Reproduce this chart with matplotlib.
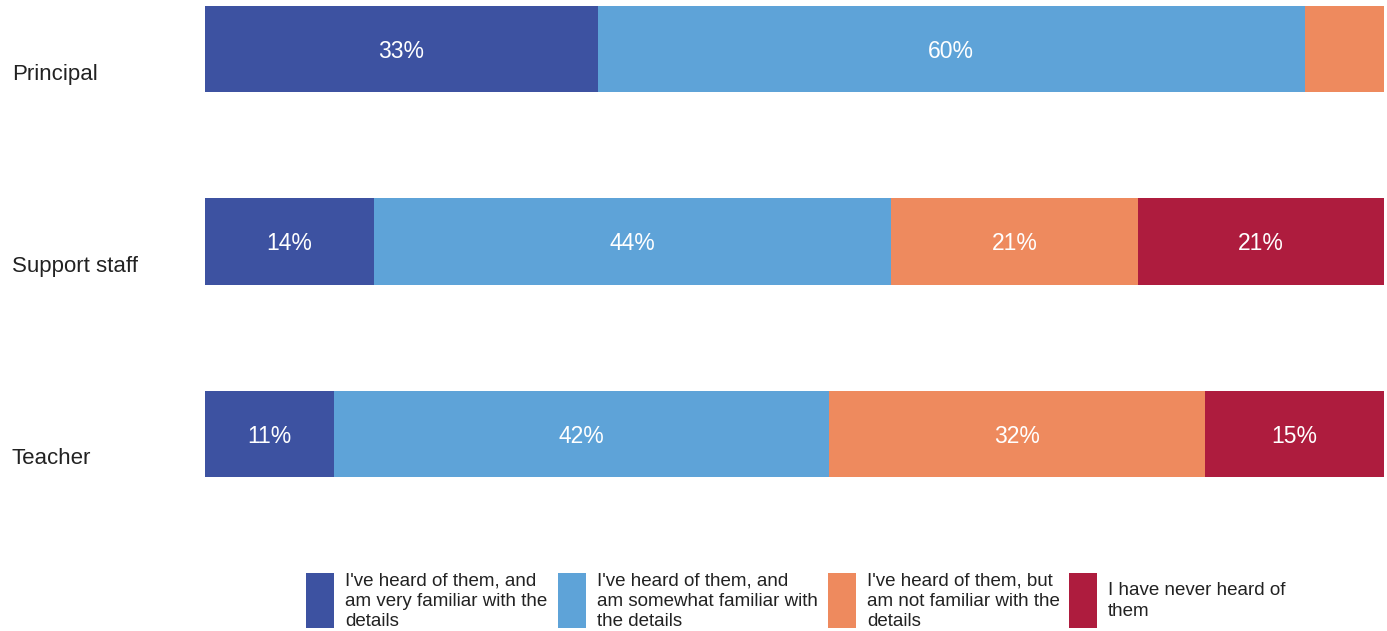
import matplotlib
matplotlib.use("Agg")
import matplotlib.pyplot as plt
from matplotlib.patches import Rectangle

plt.rcParams['font.family'] = ['Liberation Sans', 'DejaVu Sans']

# data (shares in %)
groups = ["Principal", "Support staff", "Teacher"]
answers = [
    "I've heard of them, and\nam very familiar with the\ndetails",
    "I've heard of them, and\nam somewhat familiar with\nthe details",
    "I've heard of them, but\nam not familiar with the\ndetails",
    "I have never heard of\nthem",
]
very_familiar = [33.3, 14.3, 10.9]
somewhat_familiar = [60.0, 43.9, 42.0]
not_familiar = [6.7, 20.9, 31.9]
never_heard = [0.0, 20.9, 15.2]
series = [very_familiar, somewhat_familiar, not_familiar, never_heard]
colours = ["#3d52a1", "#5ea3d8", "#ee8a5e", "#ae1c3e"]

W, H = 1387, 631
fig = plt.figure(figsize=(W / 100, H / 100), dpi=100)
ax = fig.add_axes([205 / W, 1 - 477 / H, 1179 / W, 471 / H])

bar_h = 0.447
y = list(range(len(groups)))
left = [0] * len(groups)
for vals, col in zip(series, colours):
    ax.barh(y, vals, left=left, height=bar_h, color=col, linewidth=0)
    for i, v in enumerate(vals):
        if v >= 10:
            ax.text(left[i] + v / 2, y[i], f"{round(v)}%", ha='center',
                    va='center_baseline', color='white', fontsize=16.5)
    left = [l + v for l, v in zip(left, vals)]

ax.set_xlim(0, 100)
ax.set_ylim(len(groups) - 1 + bar_h / 2, -bar_h / 2)
ax.axis('off')

# category labels sit a little below the bar centre
for i, g in enumerate(groups):
    ax.annotate(g, xy=(0, y[i]), xycoords=('axes fraction', 'data'),
                xytext=(-193, -25), textcoords='offset pixels',
                ha='left', va='center', fontsize=16, color='#222222')

# legend drawn by hand, one swatch + wrapped label per answer
swatch_x = [306, 558, 828, 1069]
for sx, lab, col in zip(swatch_x, answers, colours):
    fig.patches.append(Rectangle((sx / W, 1 - 628 / H), 28 / W, 55 / H,
                                 transform=fig.transFigure, color=col, linewidth=0))
    fig.text((sx + 39) / W, 1 - 601 / H, lab, ha='left', va='center',
             fontsize=13.5, color='#222222', linespacing=1.25)

fig.savefig("out.png", dpi=100)
